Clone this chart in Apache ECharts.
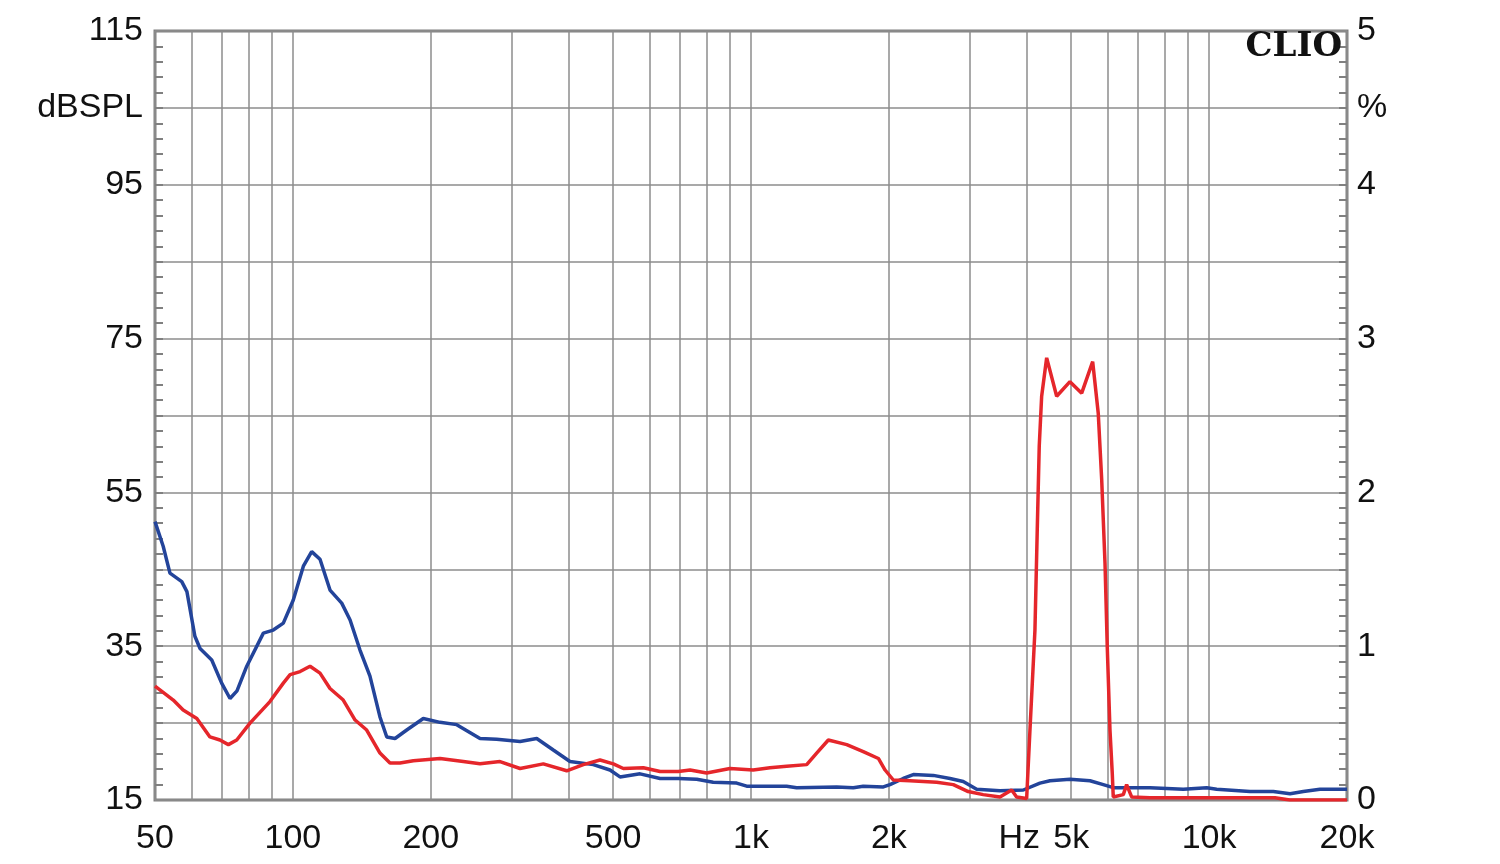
<!DOCTYPE html>
<html><head><meta charset="utf-8">
<script src="https://cdn.jsdelivr.net/npm/echarts@6/dist/echarts.min.js"></script>
<style>html,body{margin:0;padding:0;background:#fff}#c{width:1500px;height:864px}</style>
</head><body><div id="c"></div><script>
// X axis (Hz, log scale)
const freqGrid = [50,60,70,80,90,100,200,300,400,500,600,700,800,900,1000,2000,3000,4000,5000,6000,7000,8000,9000,10000,20000];
const freqLabels = [50,100,200,500,1000,2000,3850,5000,10000,20000];
const freqLabelText = ['50','100','200','500','1k','2k','Hz','5k','10k','20k'];
// Left axis (dBSPL)
const dbLabels = [15,35,55,75,95,105,115];
const dbMinorTicks = [17,19,21,23,25,27,29,31,33,35,37,39,41,43,45,47,49,51,53,55,57,59,61,63,65,67,69,71,73,75,77,79,81,83,85,87,89,91,93,95,97,99,101,103,105,107,109,111,113];
// Right axis (%)
const pctMinorTicks = [0.1,0.2,0.3,0.4,0.5,0.6,0.7,0.8,0.9,1,1.1,1.2,1.3,1.4,1.5,1.6,1.7,1.8,1.9,2,2.1,2.2,2.3,2.4,2.5,2.6,2.7,2.8,2.9,3,3.1,3.2,3.3,3.4,3.5,3.6,3.7,3.8,3.9,4,4.1,4.2,4.3,4.4,4.5,4.6,4.7,4.8,4.9];

// Blue curve [Hz, dBSPL]
const blueSeries = [[50,51.2],[52.1,48.0],[53.9,44.5],[57.2,43.4],[58.7,42.1],[61.1,36.3],[62.7,34.7],[66.5,33.2],[69.9,30.2],[72.9,28.2],[75.5,29.2],[79.3,32.4],[86.2,36.7],[90.6,37.1],[95.3,38.0],[100.2,41.0],[105.4,45.4],[109.9,47.3],[114.6,46.3],[120.5,42.3],[127.8,40.6],[133.3,38.4],[140.1,34.5],[147.3,31.1],[154.9,25.8],[160.3,23.2],[167.1,23.0],[177.2,24.1],[192.6,25.6],[209.5,25.1],[227.8,24.8],[256.1,23.0],[278.5,22.9],[313.2,22.6],[340.6,23.0],[370.2,21.5],[402.6,20.0],[452.6,19.6],[492.3,18.9],[517.6,18.0],[572.6,18.4],[633.2,17.8],[694,17.8],[761.2,17.7],[826.9,17.3],[930.5,17.2],[978.5,16.8],[1196,16.8],[1258,16.6],[1538,16.7],[1672,16.6],[1758,16.8],[1945,16.7],[2011,17.0],[2149,17.8],[2261,18.3],[2500,18.2],[2719,17.8],[2906,17.4],[3109,16.4],[3495,16.2],[3930,16.3],[4273,17.2],[4494,17.5],[4969,17.7],[5495,17.5],[5875,17.0],[6177,16.6],[7430,16.6],[8785,16.4],[9881,16.6],[10389,16.4],[12281,16.1],[13810,16.1],[15020,15.8],[16057,16.1],[17461,16.4],[20000,16.4]];
// Red curve [Hz, dBSPL]
const redSeries = [[50,29.8],[54.8,28.0],[57.6,26.7],[61.7,25.6],[65.9,23.2],[69.3,22.8],[72.3,22.2],[75.4,22.8],[80.6,25.0],[89.1,27.8],[95.3,30.2],[98.6,31.3],[103.7,31.7],[109,32.4],[114.6,31.5],[120.5,29.5],[128.8,28.0],[136.7,25.4],[144.9,24.1],[154.9,21.1],[162.9,19.8],[171.3,19.8],[183.2,20.1],[209.5,20.4],[235.5,20.0],[256.1,19.7],[283.2,20.0],[313.2,19.1],[352.1,19.7],[396,18.8],[430.5,19.6],[468.2,20.2],[500.5,19.7],[526.4,19.1],[582.2,19.2],[633.2,18.7],[694,18.7],[736.2,18.9],[800.3,18.5],[899.6,19.1],[1011,18.9],[1100,19.2],[1196,19.4],[1323,19.6],[1391,21.1],[1475,22.8],[1618,22.2],[1758,21.3],[1897,20.4],[1962,18.9],[2045,17.6],[2223,17.5],[2543,17.3],[2764,17.0],[2980,16.1],[3213,15.7],[3495,15.4],[3707,16.3],[3800,15.4],[3997,15.2],[4064,24.1],[4167,37.1],[4216,50.2],[4258,61.0],[4310,67.5],[4420,72.5],[4648,67.5],[4969,69.4],[5271,67.9],[5570,72.0],[5728,65.3],[5828,56.7],[5926,45.8],[5993,35.0],[6076,24.1],[6146,18.5],[6177,15.4],[6497,15.7],[6606,17.0],[6775,15.4],[7430,15.3],[13925,15.3],[15000,15.0],[20000,15.0]];

const FONT = '"Liberation Sans", Arial, sans-serif';
const gridColor = '#8c8c8c';
function freqText(v){
  let best = 0, bd = Infinity;
  freqLabels.forEach((f,i)=>{ const d = Math.abs(Math.log(f)-Math.log(v)); if(d<bd){bd=d;best=i;} });
  return freqLabelText[best];
}
const chart = echarts.init(document.getElementById('c'), null, {renderer:'canvas'});
chart.setOption({
  animation: false,
  backgroundColor: '#fff',
  grid: {left:155, top:31, width:1192, bottom:64, show:true, borderColor:'#808080', borderWidth:3, backgroundColor:'transparent', containLabel:false},
  graphic: [{type:'text', right:158, top:30, z:10, style:{text:'CLIO', font:'bold 34px "DejaVu Serif", serif', fill:'#111'}}],
  xAxis: {
    type:'log', logBase:10, min:50, max:20000,
    axisLine:{show:false},
    axisTick:{show:false, customValues: freqGrid},
    splitLine:{show:true, lineStyle:{color:gridColor, width:1.5}},
    axisLabel:{show:true, customValues: freqLabels, formatter: v=>freqText(v), fontSize:34, color:'#111', fontFamily:FONT, margin:22, showMinLabel:true, showMaxLabel:true, hideOverlap:false}
  },
  yAxis: [
    {type:'value', position:'left', min:15, max:115,
     axisLine:{show:false},
     axisTick:{show:true, inside:true, length:8, customValues: dbMinorTicks, lineStyle:{color:'#808080', width:2}},
     splitLine:{show:false},
     axisLabel:{customValues: dbLabels, formatter: v=> v===105?'dBSPL':String(v), fontSize:34, color:'#111', fontFamily:FONT, margin:12}
    },
    {type:'value', position:'right', min:0, max:5, interval:0.5,
     axisLine:{show:false}, axisTick:{show:false},
     splitLine:{show:true, lineStyle:{color:gridColor, width:1.5}},
     axisLabel:{formatter: v=> Math.abs(v-4.5)<1e-6?'%':(Math.abs(v-Math.round(v))<1e-6?String(Math.round(v)):''), fontSize:34, color:'#111', fontFamily:FONT, margin:10}
    },
    {type:'value', position:'right', min:0, max:5,
     axisLine:{show:false},
     axisTick:{show:true, inside:true, length:8, customValues: pctMinorTicks, lineStyle:{color:'#808080', width:2}},
     splitLine:{show:false}, axisLabel:{show:false}
    }
  ],
  series: [
    {type:'line', name:'blue', data: blueSeries, yAxisIndex:0, showSymbol:false, symbol:'none', smooth:false, lineStyle:{color:'#23449a', width:3.5}, z:3},
    {type:'line', name:'red', data: redSeries, yAxisIndex:0, showSymbol:false, symbol:'none', smooth:false, lineStyle:{color:'#e5262b', width:3.5}, z:4}
  ]
});
</script></body></html>
